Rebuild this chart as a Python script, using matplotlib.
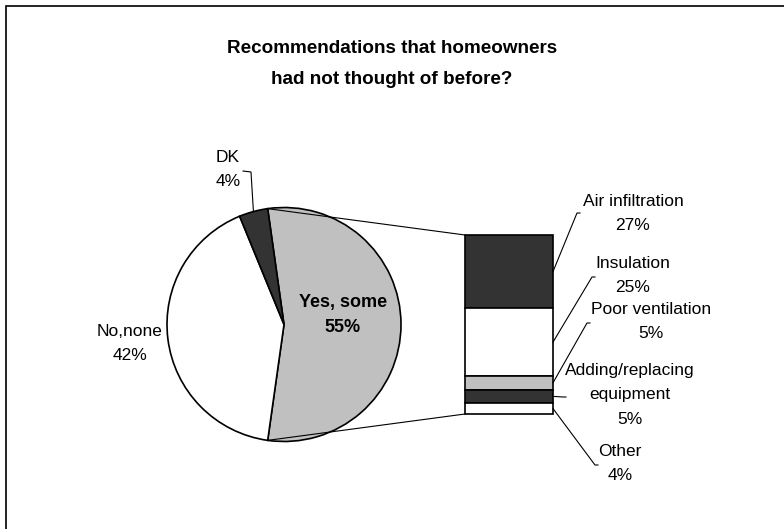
import numpy as np
import matplotlib
matplotlib.use("Agg")
import matplotlib.pyplot as plt
from matplotlib.patches import Rectangle

plt.rcParams["font.family"] = ["Liberation Sans", "DejaVu Sans"]

# pie: answers to "any recommendations not thought of before?"
pie_labels = ["Yes, some", "No,none", "DK"]
pie_values = [55, 42, 4]
pie_colors = ["#C0C0C0", "#FFFFFF", "#333333"]

# bar: breakdown of the "Yes, some" answers
bar_labels = ["Air infiltration", "Insulation", "Poor ventilation",
              "Adding/replacing\nequipment", "Other"]
bar_values = [27, 25, 5, 5, 4]
bar_colors = ["#333333", "#FFFFFF", "#C0C0C0", "#333333", "#FFFFFF"]

W, H = 784, 529
def Y(y):
    # layout is worked out top-down in pixels
    return H - y

fig = plt.figure(figsize=(W / 100, H / 100), dpi=100)
ax = fig.add_axes([0, 0, 1, 1])

# ── pie ──────────────────────────────────────────────
cx, cy, r = 284, Y(324.5), 117
frac_yes = pie_values[0] / sum(pie_values)
start = frac_yes * 180          # centre the "Yes" wedge on the right side
wedges, _ = ax.pie(pie_values, colors=pie_colors, startangle=start,
                   counterclock=False, center=(cx, cy), radius=r,
                   wedgeprops=dict(edgecolor="black", linewidth=1.2))

ax.text(343, Y(315), f"{pie_labels[0]}\n{pie_values[0]}%", ha="center",
        va="center", fontsize=13, fontweight="bold", linespacing=1.6)
ax.text(130, Y(343), f"{pie_labels[1]}\n{pie_values[1]}%", ha="center",
        va="center", fontsize=12.5, linespacing=1.75)

# DK label with leader to the middle of its wedge
dk_mid = np.deg2rad(start - 360 * (1 - pie_values[2] / sum(pie_values) / 2))
px, py = cx + r * np.cos(dk_mid), cy + r * np.sin(dk_mid)
ax.text(228, Y(170), f"{pie_labels[2]}\n{pie_values[2]}%", ha="center",
        va="center", fontsize=12.5, linespacing=1.75)
ax.plot([243, 251, px], [Y(171), Y(172), py], color="black", lw=0.8)

# ── stacked bar ──────────────────────────────────────
bx, bw, btop, bh = 465, 88, Y(235), 179
scale = bh / sum(bar_values)
tops = btop - scale * np.concatenate([[0], np.cumsum(bar_values)[:-1]])
heights = scale * np.array(bar_values)
ax.bar(bx + bw / 2, heights, width=bw, bottom=tops - heights,
       color=bar_colors, edgecolor="black", linewidth=1.2)

# connectors from the "Yes" wedge to the bar
a0, a1 = np.deg2rad(start), np.deg2rad(start - frac_yes * 360)
ax.plot([cx + r * np.cos(a0), bx], [cy + r * np.sin(a0), btop],
        color="black", lw=0.8)
ax.plot([cx + r * np.cos(a1), bx], [cy + r * np.sin(a1), btop - bh],
        color="black", lw=0.8)

# bar labels: text centre, leader elbow
label_pos = [(633, 213), (633, 276), (651, 322), (630, 395), (620, 464)]
elbows = [(577, 213), (592, 277), (587, 323), (563, 397), (595, 465)]
for lab, v, mid, (tx, ty), (ex, ey) in zip(bar_labels, bar_values,
                                          tops - heights / 2, label_pos, elbows):
    ax.text(tx, Y(ty), f"{lab}\n{v}%", ha="center", va="center",
            fontsize=12.5, linespacing=1.75)
    ax.plot([bx + bw, ex, ex + 3], [mid, Y(ey), Y(ey)], color="black", lw=0.8)

# ── title and frame ──────────────────────────────────
ax.text(392, Y(64), "Recommendations that homeowners\nhad not thought of before?",
        ha="center", va="center", fontsize=13.6, fontweight="bold",
        linespacing=2.05)
ax.add_patch(Rectangle((6, -50), 900, Y(6) + 50, fill=False,
                       edgecolor="black", lw=1.2))

ax.set_xlim(0, W)
ax.set_ylim(0, H)
ax.set_aspect("auto")
ax.axis("off")

fig.savefig("out.png", dpi=100)
